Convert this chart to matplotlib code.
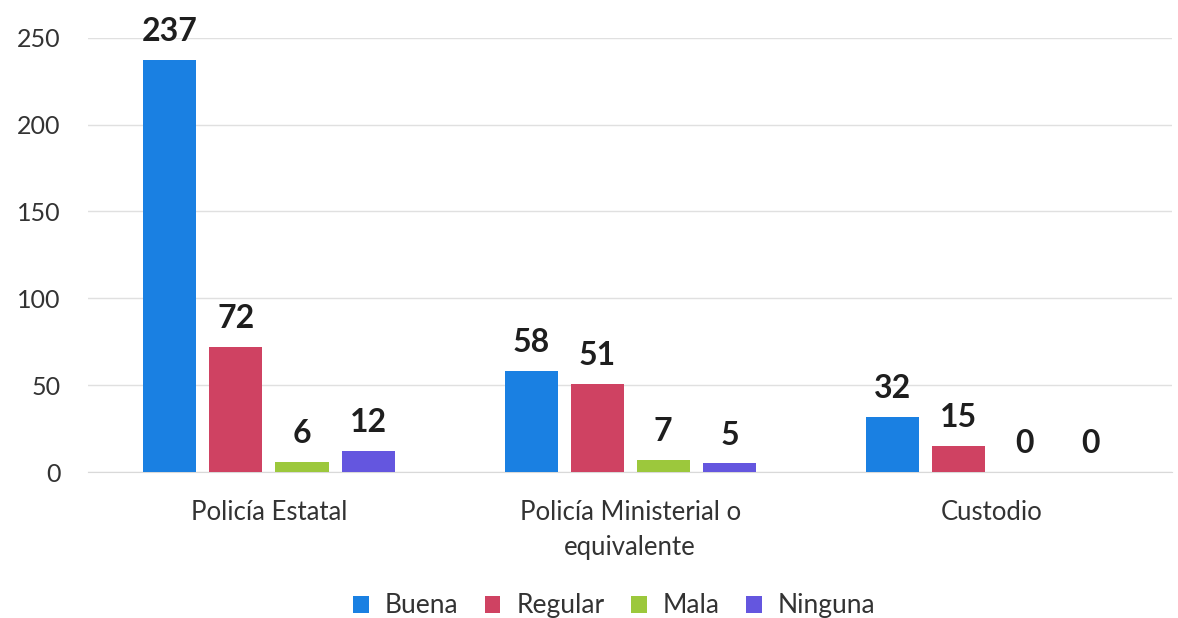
import numpy as np
import matplotlib.pyplot as plt

plt.rcParams['font.family'] = ['Lato', 'DejaVu Sans']

categories = ['Policía Estatal', 'Policía Ministerial o\nequivalente', 'Custodio']
series = ['Buena', 'Regular', 'Mala', 'Ninguna']
buena = [237, 58, 32]
regular = [72, 51, 15]
mala = [6, 7, 0]
ninguna = [12, 5, 0]
colors = ['#1a80e2', '#cf4262', '#9cc83c', '#6456df']

values = [buena, regular, mala, ninguna]

fig = plt.figure(figsize=(11.78, 6.18), dpi=100)
ax = fig.add_axes([0.075, 0.236, 0.92, 0.703])

x = np.arange(len(categories))
width = 0.147
step = 0.183
for i, (name, vals) in enumerate(zip(series, values)):
    pos = x + (i - 1.5) * step
    ax.bar(pos, vals, width, color=colors[i], label=name, zorder=3)
    for p, v in zip(pos, vals):
        ax.text(p, v + 8, str(v), ha='center', va='bottom', fontsize=23,
                fontweight='bold', color='#1e1e1e', clip_on=False)

ax.set_xlim(-0.5, 2.5)
ax.set_ylim(0, 250)
ax.set_yticks(range(0, 251, 50))
ax.set_xticks(x)
ax.set_xticklabels(categories, fontsize=18.5, color='#333333', linespacing=1.5)
ax.tick_params(axis='y', labelsize=18, labelcolor='#333333', length=0, pad=20)
ax.tick_params(axis='x', length=0, pad=20)
ax.grid(axis='y', color='#e0e0e0', linewidth=1, zorder=0)
for s in ['top', 'right', 'left']:
    ax.spines[s].set_visible(False)
ax.spines['bottom'].set_color('#d9d9d9')

ax.legend(loc='center', bbox_to_anchor=(0.485, -0.308), ncol=4, frameon=False,
          fontsize=19, handlelength=0.6, handleheight=0.6, columnspacing=1.0,
          handletextpad=0.6, labelcolor='#333333')

plt.savefig('out.png')
